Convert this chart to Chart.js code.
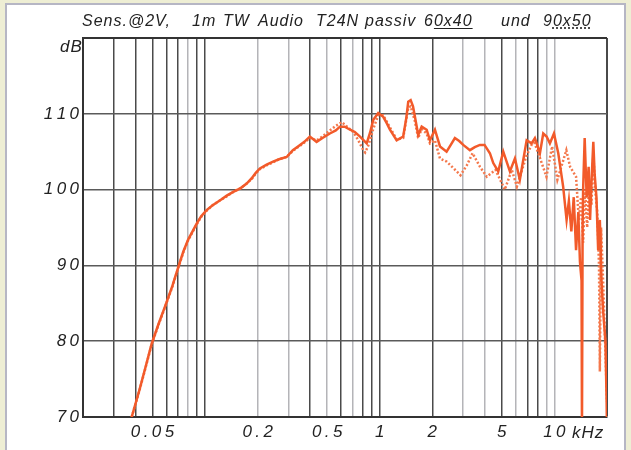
<!DOCTYPE html>
<html>
<head>
<meta charset="utf-8">
<script src="https://cdn.jsdelivr.net/npm/chart.js@4"></script>
<style>
  html, body { margin: 0; padding: 0; }
  body { width: 631px; height: 450px; background: #eeeed4; position: relative; overflow: hidden; }
  #panel { position: absolute; left: 5px; top: 3px; width: 617px; height: 460px; background: #fff; border: 2px solid #b6b6c4; }
  #chart { position: absolute; left: 0; top: 0; }
  .txt { position: absolute; font-family: 'Liberation Sans', sans-serif; font-style: italic; font-size: 16px; color: #222; letter-spacing: 1px; white-space: nowrap; line-height: 20px; }
  .u { text-decoration: underline; text-underline-offset: 2px; }
  .ud { text-decoration: underline dotted; text-underline-offset: 2px; }
</style>
</head>
<body>
<div id="panel"></div>
<canvas id="chart" width="631" height="450"></canvas>
<div class="txt" style="left:82px; top:11px">Sens.@2V,</div>
<div class="txt" style="left:192px; top:11px">1m</div>
<div class="txt" style="left:223px; top:11px">TW</div>
<div class="txt" style="left:258px; top:11px">Audio</div>
<div class="txt" style="left:316px; top:11px">T24N</div>
<div class="txt" style="left:365px; top:11px">passiv</div>
<div class="txt" style="left:424px; top:11px">6<span class="u">0x40</span></div>
<div class="txt" style="left:501px; top:11px">und</div>
<div class="txt" style="left:543px; top:11px">9<span class="ud">0x50</span></div>
<div class="txt" style="left:60px; top:37px; font-size:17px">dB</div>
<div class="txt" style="left:572px; top:423px; font-size:17px">kHz</div>
<script>
// Frequency grid (kHz) and tick labels
const gridFreqs = [0.02, 0.03, 0.04, 0.05, 0.06, 0.07, 0.08, 0.09, 0.1,
  0.2, 0.3, 0.4, 0.5, 0.6, 0.7, 0.8, 0.9, 1,
  2, 3, 4, 5, 6, 7, 8, 9, 10, 20];
const grayFreqs = [0.08, 0.2, 0.3, 0.5, 0.7, 3, 4, 6, 9, 10];
const xLabels = { 0.05: '0.05', 0.2: '0.2', 0.5: '0.5', 1: '1', 2: '2', 5: '5', 10: '10' };
const dbTicks = [70, 80, 90, 100, 110, 120];

// 60x40 (solid)
const freqA = [0.038, 0.042, 0.0455, 0.0495, 0.054, 0.059, 0.065, 0.0703, 0.075, 0.08,
  0.0895, 0.095, 0.102, 0.11, 0.122, 0.133, 0.145, 0.16, 0.173, 0.185,
  0.195, 0.206, 0.225, 0.245, 0.265, 0.293, 0.318, 0.345, 0.37, 0.398,
  0.435, 0.47, 0.518, 0.56, 0.592, 0.63, 0.676, 0.72, 0.771, 0.842,
  0.88, 0.918, 0.98, 1.047, 1.1, 1.144, 1.25, 1.362, 1.42, 1.456,
  1.503, 1.55, 1.59, 1.66, 1.738, 1.856, 1.938, 2.07, 2.212, 2.414,
  2.55, 2.692, 2.85, 3.006, 3.282, 3.5, 3.744, 3.98, 4.272, 4.466,
  4.768, 5.094, 5.56, 5.942, 6.34, 6.934, 7.4, 7.732, 8.26, 8.63,
  9.02, 9.42, 9.94, 10.52, 11.22, 11.74, 12.1, 12.5, 12.9, 13.3,
  13.7, 14.0, 14.3, 14.38, 14.5, 14.6, 14.9, 15.3, 15.7, 16.0,
  16.3, 16.7, 17.0, 17.4, 17.8, 18.2, 18.6, 19.0, 19.3, 19.6, 19.9, 20];
const dbA = [70, 73.5, 76.5, 79.7, 82.2, 84.6, 87.3, 89.8, 91.8, 93.4,
  95.5, 96.5, 97.3, 97.9, 98.6, 99.2, 99.7, 100.2, 100.8, 101.5,
  102.2, 102.8, 103.3, 103.7, 104.0, 104.3, 105.2, 105.8, 106.3, 107.0,
  106.3, 106.8, 107.4, 107.8, 108.3, 108.3, 107.9, 107.6, 107.0, 106.1,
  107.5, 109.2, 110.1, 109.6, 108.7, 107.9, 106.5, 107.0, 109.5, 111.6,
  111.8, 111.0, 109.6, 107.2, 108.3, 107.9, 106.5, 107.9, 105.7, 105.0,
  105.9, 106.8, 106.4, 105.9, 105.2, 105.6, 105.9, 105.9, 104.8, 103.5,
  102.4, 105.0, 102.4, 104.1, 101.3, 106.5, 106.1, 106.8, 104.8, 107.4,
  107.0, 106.1, 107.4, 104.8, 100.4, 96.0, 98.5, 94.5, 99.0, 92.0,
  97.0, 90.5, 88.0, 68.0, 95.0, 100.0, 106.8, 99.0, 103.0, 96.0,
  101.0, 106.3, 102.0, 99.0, 92.0, 96.0, 88.0, 84.0, 82.0, 80.0, 72.0, 68.0];

// 90x50 (dotted)
const freqB = [0.038, 0.042, 0.0455, 0.0495, 0.054, 0.059, 0.065, 0.0703, 0.075, 0.08,
  0.0895, 0.095, 0.102, 0.11, 0.122, 0.133, 0.145, 0.16, 0.173, 0.185,
  0.195, 0.206, 0.225, 0.245, 0.265, 0.293, 0.318, 0.345, 0.37, 0.398,
  0.435, 0.47, 0.518, 0.56, 0.606, 0.65, 0.705, 0.75, 0.805, 0.825,
  0.86, 0.918, 0.98, 1.047, 1.144, 1.25, 1.362, 1.456, 1.503, 1.59,
  1.66, 1.738, 1.856, 1.938, 2.07, 2.212, 2.414, 2.65, 2.9, 3.15,
  3.4, 3.75, 4.1, 4.6, 5.2, 5.7, 6.1, 6.9, 7.6, 8.2,
  9.0, 9.7, 10.4, 11.7, 12.3, 13.3, 13.8, 14.2, 14.6, 15.0,
  15.4, 15.8, 16.3, 16.7, 17.1, 17.6, 18.0, 18.2, 18.5, 19.0, 19.5, 20];
const dbB = [70, 73.4, 76.4, 79.6, 82.1, 84.5, 87.2, 89.7, 91.7, 93.3,
  95.4, 96.4, 97.2, 97.9, 98.6, 99.1, 99.7, 100.2, 100.8, 101.4,
  102.1, 102.7, 103.2, 103.6, 104.0, 104.3, 105.1, 105.7, 106.2, 106.8,
  106.5, 107.0, 107.8, 108.4, 108.9, 108.3, 107.6, 106.6, 105.2, 104.9,
  105.8, 108.0, 109.8, 109.8, 108.2, 106.6, 106.8, 110.8, 111.0, 109.0,
  106.8, 108.0, 107.4, 106.1, 106.5, 104.1, 103.7, 102.8, 101.9, 103.2,
  104.8, 103.0, 101.7, 102.6, 100.0, 102.6, 100.4, 104.4, 106.5, 104.4,
  101.7, 105.7, 101.3, 105.2, 103.0, 101.7, 96.0, 99.0, 93.0, 100.0,
  95.0, 101.0, 98.0, 104.8, 100.0, 97.0, 90.0, 76.0, 95.0, 88.0, 80.0, 72.0];

const toPoints = (fs, ds) => fs.map((f, i) => ({ x: f, y: ds[i] }));
// spread the digits a little, like the original lettering
const spaced = (s) => String(s).split('').join('\u2009');

const tickFont = { family: 'Liberation Sans', style: 'italic', size: 17 };

const ctx = document.getElementById('chart').getContext('2d');
const chart = new Chart(ctx, {
    type: 'line',
    data: {
        datasets: [{
            label: '60x40',
            data: toPoints(freqA, dbA),
            borderColor: '#f25a2a',
            borderWidth: 2.5,
            pointRadius: 0,
            tension: 0
        }, {
            label: '90x50',
            data: toPoints(freqB, dbB),
            borderColor: '#f4784c',
            borderWidth: 2.5,
            borderDash: [2, 2],
            pointRadius: 0,
            tension: 0
        }]
    },
    options: {
        responsive: false,
        animation: false,
        devicePixelRatio: 1,
        layout: { padding: { top: 38, right: 24, left: 0, bottom: 0 } },
        plugins: { legend: { display: false }, tooltip: { enabled: false } },
        scales: {
            x: {
                type: 'logarithmic',
                min: 0.02,
                max: 20,
                afterBuildTicks: (scale) => { scale.ticks = gridFreqs.map(v => ({ value: v })); },
                afterFit: (scale) => { scale.height = 33; },
                ticks: {
                    autoSkip: false,
                    maxRotation: 0,
                    padding: 5,
                    color: '#222',
                    font: tickFont,
                    callback: (v) => xLabels[v] ? spaced(xLabels[v]) : ''
                },
                grid: {
                    drawTicks: false,
                    color: (c) => grayFreqs.includes(c.tick.value) ? '#b4b4b8' : '#4a4a4a',
                    lineWidth: (c) => c.tick.value === 20 ? 2 : 1.5
                },
                border: { color: '#333', width: 2 }
            },
            y: {
                min: 70,
                max: 120,
                afterBuildTicks: (scale) => { scale.ticks = dbTicks.map(v => ({ value: v })); },
                afterFit: (scale) => { scale.width = 83; },
                ticks: {
                    padding: 4,
                    color: '#222',
                    font: tickFont,
                    callback: (v) => v === 120 ? '' : spaced(v)
                },
                grid: {
                    drawTicks: false,
                    color: (c) => c.tick.value === 120 ? '#333' : '#5a5a5a',
                    lineWidth: (c) => c.tick.value === 120 ? 2 : 1.5
                },
                border: { color: '#333', width: 2 }
            }
        }
    }
});
</script>
</body>
</html>
